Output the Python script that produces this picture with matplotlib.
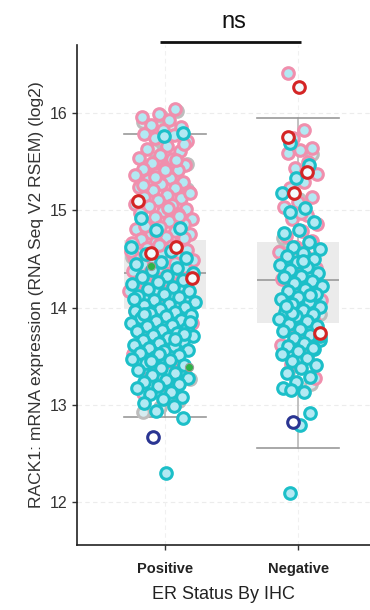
import numpy as np
import matplotlib
matplotlib.use("Agg")
import matplotlib.pyplot as plt

plt.rcParams['font.family'] = ['Liberation Sans', 'DejaVu Sans']

categories = ["Positive", "Negative"]
xlabel = "ER Status By IHC"
ylabel = "RACK1: mRNA expression (RNA Seq V2 RSEM) (log2)"
yticks = [12, 13, 14, 15, 16]

# box statistics
box_q1 = [14.00, 13.84]
box_med = [14.36, 14.28]
box_q3 = [14.70, 14.67]
box_lo = [12.88, 12.56]
box_hi = [15.79, 15.95]

# ---- Positive group values ----
pos_gray = [16.02, 15.97, 15.91, 15.84, 15.62, 15.48, 15.33, 15.12, 14.93, 14.71,
            14.52, 14.29, 14.18, 14.03, 13.81, 13.63, 13.47, 13.36, 13.27, 13.19,
            13.11, 13.04, 12.98, 12.93, 13.88, 14.61, 15.22, 15.69, 13.55, 13.42]
pos_pink = [16.04, 15.99, 15.96, 15.93, 15.88, 15.86, 15.83, 15.79, 15.77, 15.74,
            15.71, 15.66, 15.63, 15.61, 15.57, 15.54, 15.53, 15.49, 15.47, 15.44,
            15.43, 15.41, 15.37, 15.36, 15.33, 15.31, 15.29, 15.27, 15.24, 15.23,
            15.21, 15.19, 15.16, 15.14, 15.13, 15.11, 15.07, 15.06, 15.04, 15.01,
            14.99, 14.97, 14.96, 14.93, 14.91, 14.89, 14.87, 14.86, 14.83, 14.81,
            14.79, 14.77, 14.76, 14.73, 14.71, 14.69, 14.67, 14.66, 14.63, 14.61,
            14.59, 14.57, 14.56, 14.53, 14.51, 14.49, 14.47, 14.44, 14.42, 14.41,
            14.38, 14.36, 14.33, 14.31, 14.28, 14.26, 14.22, 14.19, 14.17, 14.13,
            14.09, 14.06, 14.02, 13.97, 13.93, 13.88, 13.84, 13.77, 13.71, 13.63,
            13.58, 13.52, 13.44, 13.36, 13.31, 13.22, 13.12,
            15.52, 15.34, 15.18, 15.02, 14.84, 14.72, 14.64, 14.52, 14.46, 14.37,
            15.68, 15.42, 15.26, 14.94, 14.78, 14.58, 14.34, 14.24, 14.12, 13.96]
pos_cyan = [15.80, 15.76, 14.92, 14.82, 14.80, 14.62, 14.58, 14.55, 14.51, 14.47,
            14.45, 14.41, 14.39, 14.36, 14.33, 14.31, 14.28, 14.26, 14.24, 14.21,
            14.19, 14.17, 14.14, 14.12, 14.11, 14.08, 14.06, 14.04, 14.03, 14.01,
            13.99, 13.97, 13.96, 13.94, 13.92, 13.91, 13.89, 13.87, 13.86, 13.84,
            13.82, 13.81, 13.79, 13.77, 13.76, 13.74, 13.72, 13.71, 13.69, 13.67,
            13.66, 13.64, 13.62, 13.61, 13.58, 13.56, 13.55, 13.53, 13.51, 13.49,
            13.47, 13.46, 13.43, 13.41, 13.38, 13.36, 13.33, 13.31, 13.28, 13.26,
            13.24, 13.21, 13.19, 13.17, 13.13, 13.11, 13.08, 13.06, 13.02, 12.99,
            12.94, 12.87, 12.30, 13.93, 13.73, 13.52, 14.09, 13.68, 13.45, 13.85]
pos_red = [15.10, 14.62, 14.56, 14.30]
pos_navy = [12.67]
pos_green = [14.43, 13.39]

# ---- Negative group values ----
neg_gray = [15.58, 15.12, 14.72, 14.43, 14.07, 13.93, 13.62, 13.34, 13.21, 13.48,
            14.58, 15.36]
neg_pink = [16.41, 15.83, 15.74, 15.64, 15.62, 15.59, 15.50, 15.44, 15.37, 15.29,
            15.23, 15.14, 15.09, 15.03, 14.95, 14.91, 14.86, 14.79, 14.74, 14.69,
            14.62, 14.57, 14.52, 14.46, 14.41, 14.35, 14.29, 14.22, 14.16, 14.08,
            14.01, 13.92, 13.86, 13.74, 13.62, 13.51, 13.42, 13.28, 14.97, 14.48]
neg_cyan = [15.69, 15.47, 15.33, 15.18, 15.02, 14.98, 14.88, 14.80, 14.77, 14.67,
            14.62, 14.60, 14.56, 14.53, 14.50, 14.47, 14.44, 14.42, 14.39, 14.36,
            14.33, 14.31, 14.27, 14.25, 14.22, 14.19, 14.17, 14.14, 14.11, 14.09,
            14.06, 14.04, 14.01, 13.98, 13.96, 13.93, 13.91, 13.88, 13.86, 13.83,
            13.81, 13.78, 13.76, 13.72, 13.69, 13.67, 13.64, 13.61, 13.57, 13.55,
            13.52, 13.48, 13.45, 13.41, 13.38, 13.33, 13.29, 13.24, 13.17, 13.13,
            13.15, 12.92, 12.79, 12.09, 14.13, 13.94, 13.71, 14.48, 14.02, 13.59]
neg_red = [16.27, 15.75, 15.39, 15.18, 13.74]
neg_navy = [12.82]

# colours
FILL = "#b3e9f3"
C_CYAN = "#1cbfc8"
C_PINK = "#f08fad"
C_GRAY = "#bdbdbd"
C_RED = "#d42525"
C_NAVY = "#2a3592"
C_GREEN = "#2fb447"

centers = {0: (-0.02, 0.25), 1: (0.015, 0.17)}
PHI = 0.6180339887

all_vals = {0: np.array(pos_gray + pos_pink + pos_cyan + pos_red + pos_navy + pos_green),
            1: np.array(neg_gray + neg_pink + neg_cyan + neg_red + neg_navy)}


def density_scale(vals, group):
    ref = all_vals[group]
    v = np.asarray(vals)[:, None]
    d = np.exp(-0.5 * ((v - ref[None, :]) / 0.3) ** 2).sum(axis=1)
    dmax = np.exp(-0.5 * ((ref[:, None] - ref[None, :]) / 0.3) ** 2).sum(axis=1).max()
    return np.clip((d / dmax) ** 0.35, 0.55, 1.0)


def jitter(vals, group, seed):
    c, w = centers[group]
    n = len(vals)
    idx = np.arange(n) + seed
    frac = (idx * PHI) % 1.0
    return group + c + (frac - 0.5) * 2 * w * density_scale(vals, group)


fig = plt.figure(figsize=(3.7, 6.1), dpi=100)
ax = fig.add_axes([0.208, 0.1066, 0.792, 0.8196])

# faint grid
for yv in yticks:
    ax.axhline(yv, color="#ececec", lw=0.8, ls=(0, (4, 3)), zorder=0)
for xv in [0, 1]:
    ax.axvline(xv, color="#f0f0f0", lw=0.8, ls=(0, (4, 3)), zorder=0)

stats = []
for i in range(2):
    stats.append(dict(med=box_med[i], q1=box_q1[i], q3=box_q3[i],
                      whislo=box_lo[i], whishi=box_hi[i], fliers=[]))
ax.bxp(stats, positions=[0, 1], widths=0.62, showfliers=False, patch_artist=True,
       boxprops=dict(facecolor="#ebebeb", edgecolor="none"),
       medianprops=dict(color="#9a9a9a", lw=1.2),
       whiskerprops=dict(color="#b8b8b8", lw=1.2),
       capprops=dict(color="#9a9a9a", lw=1.2), capwidths=0.62,
       zorder=1)

S = 70
LW = 2.2


def ring(vals, group, seed, edge, fill=FILL, z=3, size=S, lw=LW):
    x = jitter(vals, group, seed)
    ax.scatter(x, vals, s=size, facecolor=fill, edgecolor=edge, linewidths=lw,
               zorder=z)


ring(pos_gray, 0, 3, C_GRAY, fill="#d6ecf0", z=2)
ring(pos_pink, 0, 11, C_PINK, z=3)
ring(pos_cyan, 0, 29, C_CYAN, z=4)
ring(pos_red, 0, 5, C_RED, fill="#f3fbfd", z=5)
ring(pos_navy, 0, 2, C_NAVY, fill="white", z=5)
ring(pos_green, 0, 7, "#9a9a9a", fill=C_GREEN, z=6, size=34, lw=0.8)

ring(neg_gray, 1, 3, C_GRAY, fill="#d6ecf0", z=2)
ring(neg_pink, 1, 13, C_PINK, z=3)
ring(neg_cyan, 1, 31, C_CYAN, z=4)
ring(neg_red, 1, 4, C_RED, fill="#f3fbfd", z=5)
ring(neg_navy, 1, 2, C_NAVY, fill="white", z=5)

ax.set_xlim(-0.66, 1.54)
ax.set_ylim(11.56, 16.70)
ax.set_yticks(yticks)
ax.set_yticklabels([str(v) for v in yticks], fontsize=11.5, color="#333333")
ax.set_xticks([0, 1])
ax.set_xticklabels(categories, fontsize=10.5, fontweight="bold", color="#222222")
ax.set_xlabel(xlabel, fontsize=13, color="#222222", labelpad=7)
ax.set_ylabel(ylabel, fontsize=12.6, color="#333333", labelpad=4)
ax.tick_params(axis="both", length=3.5, width=1, color="#333333")
ax.tick_params(axis="x", pad=9)
for sp in ["top", "right"]:
    ax.spines[sp].set_visible(False)
for sp in ["left", "bottom"]:
    ax.spines[sp].set_linewidth(1.2)
    ax.spines[sp].set_color("#222222")

# significance bracket
ax.plot([-0.04, 1.02], [16.73, 16.73], color="#111111", lw=2.0, clip_on=False,
        solid_capstyle="butt")
ax.text(0.52, 16.82, "ns", ha="center", va="bottom", fontsize=17, color="#111111",
        clip_on=False)

fig.savefig("out.png", dpi=100)
